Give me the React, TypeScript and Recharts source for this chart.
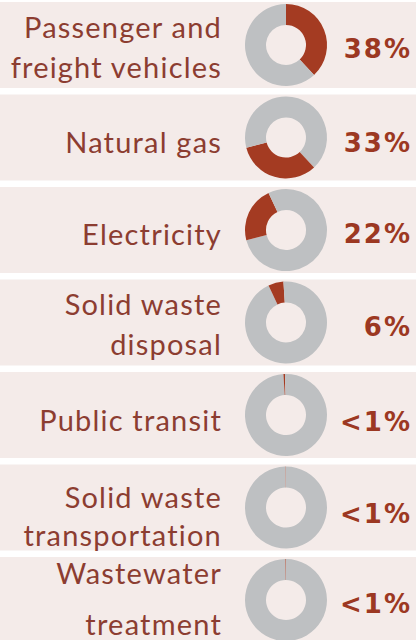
import React from 'react';
import { PieChart, Pie, Cell } from 'recharts';

// label lines for each source, top to bottom
const categories: string[][] = [
  ['Passenger and', 'freight vehicles'],
  ['Natural gas'],
  ['Electricity'],
  ['Solid waste', 'disposal'],
  ['Public transit'],
  ['Solid waste', 'transportation'],
  ['Wastewater', 'treatment'],
];
// share of total emissions (%)
const shares = [38, 33, 22, 6, 0.6, 0.2, 0.2];
const shareLabels = ['38%', '33%', '22%', '6%', '<1%', '<1%', '<1%'];

const W = 416;
const H = 640;
const ROW_CENTER_0 = 45;
const ROW_STEP = 92.5;
const BAND_HALF = 43;
const DONUT_X = 286;
const LABEL_RIGHT = 222;
const VALUE_RIGHT = 412;

// baseline offsets (px) from each row centre
const labelBaselines = [[-7, 33], [15], [15], [-8, 32], [16], [0, 38], [-16, 35]];
const valueBaselines = [13, 14, 13, 13, 16, 15, 13];

const RED = '#a43b22';
const GREY = '#bec0c2';
const BAND = '#f4ebe9';
const LABEL_COLOR = '#8c3d31';
const VALUE_COLOR = '#9c3822';

export default function App() {
  const rowY = (i: number) => ROW_CENTER_0 + i * ROW_STEP;

  // cumulative start so each slice continues where the previous one ended
  let acc = 0;
  const pies = shares.map((s, i) => {
    const d = [
      { name: 'before', value: acc },
      { name: categories[i].join(' '), value: s },
      { name: 'after', value: 100 - acc - s },
    ];
    acc += s;
    return d;
  });

  return (
    <div style={{ position: 'absolute', left: 0, top: 0, width: W, height: H, background: '#fff', overflow: 'hidden' }}>
      <svg width={W} height={H} style={{ position: 'absolute', left: 0, top: 0 }}>
        {categories.map((lines, i) => (
          <g key={i}>
            <rect x={0} y={rowY(i) - BAND_HALF} width={W} height={BAND_HALF * 2} fill={BAND} />
            {lines.map((t, j) => (
              <text
                key={j}
                x={LABEL_RIGHT}
                y={rowY(i) + labelBaselines[i][j]}
                textAnchor="end"
                fontFamily="Lato, sans-serif"
                fontSize={29}
                letterSpacing={1.2}
                fill={LABEL_COLOR}
              >
                {t}
              </text>
            ))}
            <text
              x={VALUE_RIGHT}
              y={rowY(i) + valueBaselines[i]}
              textAnchor="end"
              fontFamily="'DejaVu Sans', sans-serif"
              fontWeight="bold"
              fontSize={26}
              letterSpacing={2}
              fill={VALUE_COLOR}
            >
              {shareLabels[i]}
            </text>
          </g>
        ))}
      </svg>
      <div style={{ position: 'absolute', left: 0, top: 0 }}>
        <PieChart width={W} height={H} margin={{ top: 0, right: 0, bottom: 0, left: 0 }}>
          {pies.map((d, i) => (
            <Pie
              key={i}
              data={d}
              dataKey="value"
              cx={DONUT_X}
              cy={rowY(i)}
              innerRadius={20}
              outerRadius={41}
              startAngle={90}
              endAngle={-270}
              stroke="none"
              isAnimationActive={false}
            >
              <Cell fill={GREY} />
              <Cell fill={RED} />
              <Cell fill={GREY} />
            </Pie>
          ))}
        </PieChart>
      </div>
    </div>
  );
}
